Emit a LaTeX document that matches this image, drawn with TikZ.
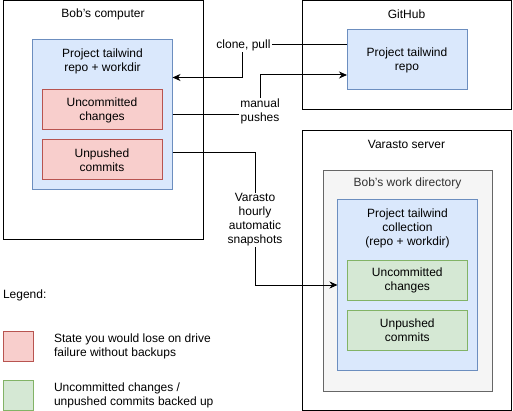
\documentclass[tikz,border=0pt]{standalone}
\usepackage{fontspec}
\setmainfont{Liberation Sans}
\usetikzlibrary{arrows.meta}
\definecolor{bluefill}{HTML}{DAE8FC}
\definecolor{bluedraw}{HTML}{6C8EBF}
\definecolor{redfill}{HTML}{F8CECC}
\definecolor{reddraw}{HTML}{B85450}
\definecolor{greenfill}{HTML}{D5E8D4}
\definecolor{greendraw}{HTML}{82B366}
\definecolor{grayfill}{HTML}{F5F5F5}
\definecolor{graydraw}{HTML}{666666}
\definecolor{graytext}{HTML}{333333}
\tikzset{
  base/.style={line width=1pt, inner sep=0pt, outer sep=0pt, align=center, font=\fontsize{12}{14}\selectfont},
  cont/.style={base, draw=black, fill=white},
  bluebox/.style={base, draw=bluedraw, fill=bluefill},
  redbox/.style={base, draw=reddraw, fill=redfill},
  greenbox/.style={base, draw=greendraw, fill=greenfill},
  graybox/.style={base, draw=graydraw, fill=grayfill},
  txt/.style={base},
  lbl/.style={base, fill=white, inner sep=1pt},
  arr/.style={line width=1pt, draw=black, -{Stealth[length=8pt,width=7pt,inset=2.5pt]}},
}
\begin{document}
\begin{tikzpicture}[x=1pt,y=-1pt]
\useasboundingbox (0,0) rectangle (513,411);
% Bob's computer
\node[cont, minimum width=200, minimum height=239] (bob) at (103,120.5) {};
\node[txt] (bobt) at (103,14) {Bob's computer};
\node[bluebox, minimum width=140, minimum height=150] (bobrepo) at (102.5,115) {};
\node[txt] (bobrepot) at (102.5,61) {Project tailwind\\repo + workdir};
\node[redbox, minimum width=120, minimum height=40] (bobunc) at (102,110) {Uncommitted\\changes};
\node[redbox, minimum width=120, minimum height=40] (bobunp) at (102,160) {Unpushed\\commits};
% GitHub
\node[cont, minimum width=209, minimum height=109] (gh) at (406.5,55.5) {};
\node[txt] (ght) at (406.5,14) {GitHub};
\node[bluebox, minimum width=120, minimum height=60] (ghrepo) at (407,60) {Project tailwind\\repo};
% Varasto server
\node[cont, minimum width=209, minimum height=279.5] (var) at (406.5,270.25) {};
\node[txt] (vart) at (406.5,144) {Varasto server};
\node[graybox, minimum width=169, minimum height=220] (work) at (407.5,281) {};
\node[txt, text=graytext] (workt) at (407.5,183.5) {Bob's work directory};
\node[bluebox, minimum width=140, minimum height=170] (varrepo) at (407.5,285) {};
\node[txt] (varrepot) at (407.5,228) {Project tailwind\\collection\\(repo + workdir)};
\node[greenbox, minimum width=120, minimum height=40] (varunc) at (407.3,280.5) {Uncommitted\\changes};
\node[greenbox, minimum width=120, minimum height=40] (varunp) at (407.3,330.5) {Unpushed\\commits};
% connectors
\coordinate (k1) at (242,45);
\coordinate (k2) at (260,75);
\coordinate (k3) at (255,285);
\draw[arr] ([yshift=15pt]ghrepo.west) -- (k1) |- ([yshift=37.5pt]bobrepo.east);
\draw[arr] (bobrepo.east) -| (k2) -- ([yshift=-15pt]ghrepo.west);
\draw[arr] ([yshift=-37.5pt]bobrepo.east) -| (k3) -- (varrepo.west);
\node[lbl] (l1) at (243.5,45) {clone, pull};
\node[lbl] (l2) at (260,111.5) {manual\\pushes};
\node[lbl] (l3) at (255,220) {Varasto\\hourly\\automatic\\snapshots};
% legend
\node[txt, anchor=west] (legt) at (3,295) {Legend:};
\node[redbox, minimum width=30, minimum height=30] (legred) at (18,346) {};
\node[txt, anchor=west, align=left] (legredt) at (54,346.5) {State you would lose on drive\\failure without backups};
\node[greenbox, minimum width=30, minimum height=30] (leggreen) at (18,395) {};
\node[txt, anchor=west, align=left] (leggreent) at (54,395) {Uncommitted changes /\\unpushed commits backed up};
\end{tikzpicture}
\end{document}
